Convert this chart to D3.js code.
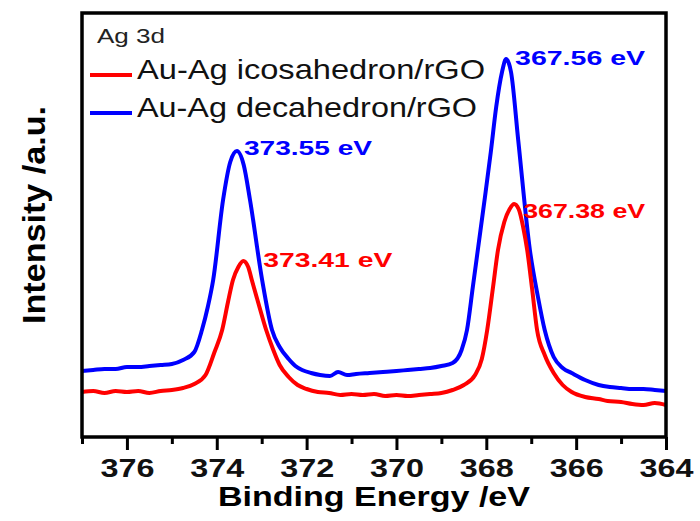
<!DOCTYPE html>
<html>
<head>
<meta charset="utf-8">
<script src="https://cdn.jsdelivr.net/npm/d3@7"></script>
<style>
  body { margin: 0; background: #fff; }
  text { font-family: Arial, "Liberation Sans", sans-serif; }
</style>
</head>
<body>
<script>
// Ag 3d XPS spectra, binding energy (eV) and intensity (arbitrary counts)
var icoEnergy = [377.0, 376.75, 376.5, 376.25, 376.0, 375.75, 375.5, 375.25, 375.0, 374.75,
  374.5, 374.25, 374.05, 373.88, 373.75, 373.64, 373.52, 373.41, 373.3, 373.22,
  373.05, 372.9, 372.75, 372.6, 372.4, 372.2, 372.0, 371.75, 371.5, 371.25,
  371.0, 370.75, 370.5, 370.25, 370.0, 369.75, 369.5, 369.25, 369.0, 368.75,
  368.5, 368.25, 368.1, 367.98, 367.85, 367.74, 367.6, 367.48, 367.38, 367.28,
  367.18, 367.09, 366.98, 366.87, 366.7, 366.5, 366.3, 366.1, 365.8, 365.5,
  365.3, 365.0, 364.75, 364.5, 364.25, 364.0];
var icoCounts = [45, 46, 44, 46, 45, 46, 44, 46, 47, 49,
  53, 62, 85, 107, 135, 157, 170, 176, 170, 157,
  130, 107, 88, 72, 60, 52, 48, 45, 44, 42,
  43, 42, 43, 41, 42, 41, 42, 43, 44, 47,
  52, 62, 78, 107, 150, 187, 215, 228, 233, 228,
  210, 187, 148, 107, 82, 64, 52, 45, 40, 38,
  36, 35, 33, 32, 34, 32];

var decaEnergy = [377.0, 376.75, 376.5, 376.25, 376.0, 375.75, 375.5, 375.25, 375.0, 374.75,
  374.5, 374.33, 374.2, 374.08, 373.86, 373.7, 373.55, 373.4, 373.26, 372.99,
  372.77, 372.6, 372.4, 372.25, 372.1, 371.9, 371.7, 371.48, 371.3, 371.1,
  370.9, 370.6, 370.3, 370.0, 369.75, 369.5, 369.25, 369.0, 368.75, 368.55,
  368.43, 368.3, 368.18, 368.03, 367.9, 367.78, 367.65, 367.56, 367.45, 367.29,
  367.03, 366.85, 366.7, 366.5, 366.3, 366.1, 365.8, 365.5, 365.25, 365.0,
  364.75, 364.5, 364.25, 364.0];
var decaCounts = [66, 67, 68, 68, 70, 70, 71, 72, 73, 77,
  85, 107, 130, 157, 237, 275, 286, 272, 237, 157,
  107, 90, 78, 71, 67, 64, 62, 61, 65, 62,
  63, 64, 65, 66, 67, 68, 69, 71, 74, 87,
  107, 150, 190, 240, 285, 330, 365, 378, 365, 297,
  187, 140, 107, 80, 69, 64, 57, 52, 50, 49,
  48, 48, 47, 46];

var majorTicks = [376, 374, 372, 370, 368, 366, 364];
var minorTicks = [377, 375, 373, 371, 369, 367, 365];

var peakLabels = [
  {energy: 373.55, counts: 286, text: "373.55 eV", color: "#0000ff", dx: 7, dy: 4, len: 128},
  {energy: 373.41, counts: 176, text: "373.41 eV", color: "#ff0000", dx: 20, dy: 6, len: 129},
  {energy: 367.56, counts: 378, text: "367.56 eV", color: "#0000ff", dx: 9, dy: 6, len: 130},
  {energy: 367.38, counts: 233, text: "367.38 eV", color: "#ff0000", dx: 9, dy: 14, len: 122}
];

var legendItems = [
  {label: "Au-Ag icosahedron/rGO", color: "#ff0000", len: 348},
  {label: "Au-Ag decahedron/rGO", color: "#0000ff", len: 340}
];

var width = 700, height = 521;
var plotLeft = 82, plotRight = 666, plotTop = 13, plotBottom = 437;

var svg = d3.select("body").append("svg")
    .attr("width", width)
    .attr("height", height);

var x = d3.scaleLinear().domain([377, 364]).range([plotLeft, plotRight]);
var y = d3.scaleLinear().domain([0, 424]).range([plotBottom, plotTop]);

var line = d3.line()
    .curve(d3.curveMonotoneX)
    .x(function(d){ return x(d[0]); })
    .y(function(d){ return y(d[1]); });

function pairs(e, c){
    return e.map(function(v, i){ return [v, c[i]]; });
}

svg.append("path")
    .datum(pairs(decaEnergy, decaCounts))
    .attr("d", line)
    .attr("fill", "none")
    .attr("stroke", "#0000ff")
    .attr("stroke-width", 4)
    .attr("stroke-linejoin", "round");

svg.append("path")
    .datum(pairs(icoEnergy, icoCounts))
    .attr("d", line)
    .attr("fill", "none")
    .attr("stroke", "#ff0000")
    .attr("stroke-width", 4)
    .attr("stroke-linejoin", "round");

// axes: major with labels, minor short ticks
var gMinor = svg.append("g")
    .attr("transform", "translate(0," + plotBottom + ")")
    .call(d3.axisBottom(x).tickValues(minorTicks).tickSize(7).tickFormat(""));

var gMajor = svg.append("g")
    .attr("transform", "translate(0," + plotBottom + ")")
    .call(d3.axisBottom(x).tickValues(majorTicks).tickSize(13).tickFormat(d3.format("d")));

svg.selectAll(".domain").remove();
svg.selectAll(".tick line").attr("stroke", "#000").attr("stroke-width", 3);

gMajor.selectAll(".tick text")
    .attr("y", 40)
    .attr("dy", 0)
    .attr("fill", "#111")
    .attr("font-size", 25)
    .attr("font-weight", "bold")
    .attr("textLength", 54)
    .attr("lengthAdjust", "spacingAndGlyphs");

// frame
svg.append("rect")
    .attr("x", plotLeft)
    .attr("y", plotTop)
    .attr("width", plotRight - plotLeft)
    .attr("height", plotBottom - plotTop)
    .attr("fill", "none")
    .attr("stroke", "#000")
    .attr("stroke-width", 3.5);

// axis titles
svg.append("text")
    .attr("x", (plotLeft + plotRight) / 2)
    .attr("y", 506)
    .attr("text-anchor", "middle")
    .attr("font-size", 28)
    .attr("font-weight", "bold")
    .attr("textLength", 312)
    .attr("lengthAdjust", "spacingAndGlyphs")
    .text("Binding Energy /eV");

svg.append("text")
    .attr("transform", "translate(45,215) rotate(-90)")
    .attr("text-anchor", "middle")
    .attr("font-size", 31)
    .attr("font-weight", "bold")
    .attr("textLength", 218)
    .attr("lengthAdjust", "spacingAndGlyphs")
    .text("Intensity /a.u.");

// peak labels
svg.selectAll(".peak")
    .data(peakLabels)
    .enter().append("text")
    .attr("class", "peak")
    .attr("x", function(d){ return x(d.energy) + d.dx; })
    .attr("y", function(d){ return y(d.counts) + d.dy; })
    .attr("fill", function(d){ return d.color; })
    .attr("font-size", 21)
    .attr("font-weight", "bold")
    .attr("textLength", function(d){ return d.len; })
    .attr("lengthAdjust", "spacingAndGlyphs")
    .text(function(d){ return d.text; });

// legend
svg.append("text")
    .attr("x", 97)
    .attr("y", 43)
    .attr("fill", "#222")
    .attr("font-size", 20)
    .attr("textLength", 68)
    .attr("lengthAdjust", "spacingAndGlyphs")
    .text("Ag 3d");

var legend = svg.selectAll(".legend")
    .data(legendItems)
    .enter().append("g")
    .attr("class", "legend")
    .attr("transform", function(d, i){ return "translate(0," + (75 + i * 38) + ")"; });

legend.append("line")
    .attr("x1", 90).attr("x2", 132)
    .attr("y1", 0).attr("y2", 0)
    .attr("stroke", function(d){ return d.color; })
    .attr("stroke-width", 4);

legend.append("text")
    .attr("x", 137)
    .attr("y", 4)
    .attr("fill", "#111")
    .attr("font-size", 28)
    .attr("textLength", function(d){ return d.len; })
    .attr("lengthAdjust", "spacingAndGlyphs")
    .text(function(d){ return d.label; });
</script>
</body>
</html>
